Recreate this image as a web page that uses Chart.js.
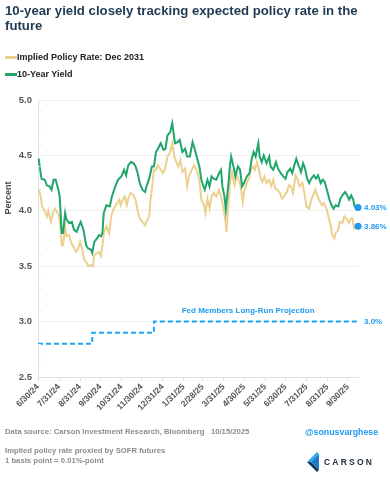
<!DOCTYPE html>
<html>
<head>
<meta charset="utf-8">
<script src="https://cdn.jsdelivr.net/npm/chart.js@4.4.1/dist/chart.umd.min.js"></script>
<style>
  body { margin: 0; background: #fff; font-family: 'Liberation Sans', Arial, sans-serif; }
  #wrap { position: relative; width: 390px; height: 480px; overflow: hidden; }
  #c { position: absolute; left: 0; top: 0; }
  .txt { position: absolute; white-space: pre; }
  #title { left: 5px; top: 3px; font-size: 13.2px; font-weight: bold; line-height: 15px; color: #1f3a52; }
  .leg { position: absolute; left: 5px; font-size: 9px; font-weight: bold; color: #222; height: 12px; line-height: 12px; }
  .leg span.sw { position: absolute; left: 0; top: 5px; width: 12px; height: 2.5px; }
  .leg span.lb { position: absolute; left: 12px; top: 0; white-space: pre; }
  #percent { left: -12px; top: 193px; width: 40px; text-align: center; font-size: 9px; font-weight: bold; color: #444; transform: rotate(-90deg); }
  #src { left: 5px; top: 427px; font-size: 7.7px; font-weight: bold; color: #8c8c8c; }
  #handle { left: 305px; top: 427px; font-size: 8.8px; font-weight: bold; color: #1e9bf0; }
  #note { left: 5px; top: 446px; font-size: 7.7px; font-weight: bold; color: #8c8c8c; line-height: 9.5px; }
  #logo { left: 306px; top: 452px; }
  #carson { left: 324px; top: 457px; font-size: 8.5px; font-weight: bold; color: #1c2b3a; letter-spacing: 2.2px; }
</style>
</head>
<body>
<div id="wrap">
  <canvas id="c" width="390" height="480"></canvas>
  <div class="txt" id="title">10-year yield closely tracking expected policy rate in the
future</div>
  <div id="legend"></div>
  <div class="txt" id="percent">Percent</div>
  <div class="txt" id="src">Data source: Carson Investment Research, Bloomberg   10/15/2025</div>
  <div class="txt" id="handle">@sonusvarghese</div>
  <div class="txt" id="note">Implied policy rate proxied by SOFR futures
1 basis point = 0.01%-point</div>
  <svg class="txt" id="logo" width="14" height="20" viewBox="0 0 14 20">
    <polygon points="11,0 1,10 5,10 13,2" fill="#2aa8f0"/>
    <polygon points="1,10 11,20 13,18 5,10" fill="#12345a"/>
    <polygon points="5,10 13,2 13,18" fill="#1e78c8"/>
  </svg>
  <div class="txt" id="carson">CARSON</div>
</div>
<script>
// x values are days since 6/30/24
const tickDays = [0, 31, 62, 92, 123, 153, 184, 215, 243, 274, 304, 335, 365, 396, 427, 457];
const tickLabels = ['6/30/24', '7/31/24', '8/31/24', '9/30/24', '10/31/24', '11/30/24', '12/31/24', '1/31/25',
  '2/28/25', '3/31/25', '4/30/25', '5/31/25', '6/30/25', '7/31/25', '8/31/25', '9/30/25'];

const yieldDays = [1, 5, 10, 13, 17, 20, 23, 26, 30, 32, 35, 37, 40, 42, 46, 50, 53, 57, 60, 63, 67, 71, 74, 78, 80,
  83, 87, 90, 93, 95, 97, 101, 106, 109, 114, 118, 123, 127, 130, 133, 137, 141, 144, 147, 150, 154, 158, 160, 164,
  168, 171, 174, 177, 181, 185, 188, 191, 195, 198, 202, 206, 209, 213, 217, 220, 224, 228, 231, 234, 238, 241, 244,
  246, 250, 253, 256, 259, 263, 267, 270, 272, 275, 277, 281, 283, 285, 288, 291, 295, 298, 301, 304, 308, 312, 315,
  318, 321, 325, 327, 330, 333, 337, 341, 343, 347, 351, 354, 358, 362, 365, 368, 372, 375, 378, 381, 385, 388, 391,
  394, 397, 400, 403, 407, 410, 413, 417, 420, 423, 427, 430, 433, 436, 439, 443, 446, 449, 453, 456, 459, 462, 465,
  467, 472];
const yieldValues = [4.47, 4.29, 4.28, 4.23, 4.22, 4.19, 4.28, 4.28, 4.19, 4.13, 3.80, 3.80, 3.98, 3.92, 3.89, 3.90,
  3.83, 3.81, 3.86, 3.90, 3.83, 3.69, 3.66, 3.65, 3.62, 3.72, 3.75, 3.78, 3.77, 3.80, 3.98, 4.05, 4.04, 4.13, 4.22,
  4.28, 4.31, 4.37, 4.32, 4.41, 4.44, 4.43, 4.40, 4.34, 4.25, 4.19, 4.17, 4.22, 4.29, 4.40, 4.40, 4.53, 4.56, 4.61,
  4.55, 4.56, 4.68, 4.71, 4.79, 4.61, 4.62, 4.64, 4.53, 4.56, 4.49, 4.49, 4.62, 4.56, 4.49, 4.40, 4.28, 4.22, 4.19,
  4.28, 4.22, 4.31, 4.29, 4.28, 4.34, 4.37, 4.22, 4.13, 4.01, 4.25, 4.40, 4.49, 4.41, 4.31, 4.40, 4.37, 4.22, 4.25,
  4.31, 4.34, 4.46, 4.53, 4.49, 4.61, 4.49, 4.44, 4.50, 4.43, 4.49, 4.40, 4.37, 4.44, 4.38, 4.34, 4.31, 4.29, 4.35,
  4.38, 4.34, 4.41, 4.47, 4.40, 4.35, 4.43, 4.38, 4.29, 4.25, 4.29, 4.32, 4.29, 4.32, 4.25, 4.28, 4.26, 4.17, 4.10,
  4.05, 4.02, 4.05, 4.04, 4.11, 4.14, 4.17, 4.14, 4.10, 4.14, 4.10, 4.04, 4.03];

const policyDays = [1, 4, 6, 9, 13, 15, 19, 22, 25, 29, 31, 33, 35, 37, 40, 42, 46, 49, 52, 56, 59, 62, 65, 68, 72,
  74, 78, 81, 83, 87, 90, 93, 95, 97, 101, 105, 108, 111, 115, 117, 120, 122, 125, 128, 131, 134, 137, 141, 144, 147,
  150, 154, 158, 160, 164, 166, 169, 171, 174, 177, 181, 184, 187, 191, 195, 198, 201, 204, 207, 210, 213, 217, 220,
  223, 227, 230, 234, 238, 241, 245, 247, 250, 253, 256, 259, 263, 267, 270, 273, 276, 278, 281, 283, 286, 288, 290,
  293, 296, 299, 302, 304, 308, 311, 314, 317, 320, 323, 326, 329, 331, 334, 337, 341, 344, 347, 350, 353, 357, 360,
  363, 367, 370, 373, 376, 380, 383, 386, 390, 393, 396, 400, 403, 406, 409, 412, 416, 419, 422, 426, 429, 432, 434,
  437, 439, 443, 445, 449, 452, 455, 459, 461, 464, 466, 472];
const policyValues = [4.20, 4.13, 4.04, 4.01, 3.95, 4.00, 3.90, 3.98, 4.02, 3.98, 3.96, 3.86, 3.69, 3.69, 3.86, 3.77,
  3.78, 3.71, 3.68, 3.63, 3.65, 3.72, 3.66, 3.56, 3.53, 3.50, 3.51, 3.50, 3.60, 3.62, 3.63, 3.59, 3.68, 3.80, 3.86,
  3.80, 3.95, 4.01, 4.05, 4.07, 4.10, 4.05, 4.10, 4.13, 4.05, 4.13, 4.16, 4.14, 4.10, 4.00, 3.93, 3.90, 3.87, 3.90,
  3.95, 4.10, 4.25, 4.37, 4.37, 4.41, 4.37, 4.34, 4.37, 4.49, 4.53, 4.61, 4.49, 4.44, 4.40, 4.46, 4.35, 4.38, 4.22,
  4.32, 4.37, 4.41, 4.37, 4.28, 4.10, 4.05, 3.98, 4.11, 4.02, 4.13, 4.16, 4.13, 4.19, 4.13, 4.04, 3.93, 3.81, 4.07,
  4.25, 4.35, 4.29, 4.23, 4.32, 4.28, 4.22, 4.08, 4.17, 4.25, 4.29, 4.37, 4.40, 4.37, 4.44, 4.37, 4.28, 4.26, 4.31,
  4.25, 4.28, 4.22, 4.28, 4.20, 4.19, 4.16, 4.11, 4.13, 4.17, 4.23, 4.22, 4.16, 4.32, 4.28, 4.22, 4.25, 4.16, 4.04,
  4.02, 4.10, 4.14, 4.19, 4.14, 4.08, 4.05, 4.07, 4.01, 3.93, 3.86, 3.78, 3.75, 3.80, 3.83, 3.90, 3.89, 3.95, 3.93,
  3.89, 3.93, 3.93, 3.84, 3.86];

// Fed SEP long-run dot (median), steps at Sep and Dec 2024 meetings
const fedDays = [0, 80, 171, 472];
const fedValues = [2.8, 2.9, 3.0, 3.0];

const GREEN = '#20a66a';
const YELLOW = '#ecd08f';
const BLUE = '#1e9bf0';
const FONT = "'Liberation Sans', Arial, sans-serif";

function pts(days, vals) { return days.map((d, i) => ({ x: d, y: vals[i] })); }
const lastDot = (n) => (ctx) => ctx.dataIndex === n - 1 ? 3.5 : 0;

// little minor tick marks on the y axis + end labels
const annot = {
  id: 'annot',
  afterDatasetsDraw(chart) {
    const { ctx, scales: { x, y }, chartArea } = chart;
    ctx.save();
    ctx.strokeStyle = '#e2e2e2';
    ctx.lineWidth = 1;
    for (let v = 2.6; v < 5.0; v += 0.1) {
      if (Math.abs(v * 2 - Math.round(v * 2)) < 0.01) continue;
      const py = Math.round(y.getPixelForValue(v)) + 0.5;
      ctx.beginPath(); ctx.moveTo(chartArea.left, py); ctx.lineTo(chartArea.left + 3, py); ctx.stroke();
    }
    ctx.fillStyle = BLUE;
    ctx.font = 'bold 8px ' + FONT;
    ctx.textBaseline = 'middle';
    ctx.textAlign = 'left';
    const xe = x.getPixelForValue(472) + 6;
    ctx.fillText(yieldValues[yieldValues.length - 1].toFixed(2) + '%', xe, y.getPixelForValue(yieldValues[yieldValues.length - 1]));
    ctx.fillText(policyValues[policyValues.length - 1].toFixed(2) + '%', xe, y.getPixelForValue(policyValues[policyValues.length - 1]));
    ctx.fillText(fedValues[fedValues.length - 1].toFixed(1) + '%', xe, y.getPixelForValue(fedValues[fedValues.length - 1]));
    ctx.textAlign = 'center';
    ctx.fillText('Fed Members Long-Run Projection', x.getPixelForValue(310), y.getPixelForValue(3.095));
    ctx.restore();
  }
};

const chart = new Chart(document.getElementById('c'), {
  type: 'line',
  data: {
    datasets: [
      {
        label: '10-Year Yield',
        data: pts(yieldDays, yieldValues),
        borderColor: GREEN, borderWidth: 2, tension: 0, clip: false,
        pointRadius: lastDot(yieldDays.length), pointBackgroundColor: BLUE, pointBorderWidth: 0,
        order: 0
      },
      {
        label: 'Implied Policy Rate: Dec 2031',
        data: pts(policyDays, policyValues),
        borderColor: YELLOW, borderWidth: 2, tension: 0, clip: false,
        pointRadius: lastDot(policyDays.length), pointBackgroundColor: BLUE, pointBorderWidth: 0,
        order: 1
      },
      {
        label: 'Fed Members Long-Run Projection',
        data: pts(fedDays, fedValues),
        borderColor: '#1ea6f5', borderWidth: 2, borderDash: [5, 3], stepped: true,
        pointRadius: 0,
        order: 2
      }
    ]
  },
  options: {
    responsive: false,
    animation: false,
    devicePixelRatio: 1,
    layout: { padding: { top: 100, right: 32, bottom: 55, left: 0 } },
    plugins: { legend: { display: false }, tooltip: { enabled: false } },
    scales: {
      x: {
        type: 'linear', min: 0, max: 472,
        afterBuildTicks: (s) => { s.ticks = tickDays.map(v => ({ value: v })); },
        afterFit: (s) => { s.height = 48; },
        ticks: {
          autoSkip: false, minRotation: 45, maxRotation: 45, padding: 1,
          color: '#555', font: { family: FONT, size: 8.5, weight: 'bold' },
          callback: (v) => tickLabels[tickDays.indexOf(v)]
        },
        grid: { drawOnChartArea: false, color: '#e0e0e0', tickLength: 4 },
        border: { color: '#e0e0e0' }
      },
      y: {
        min: 2.5, max: 5.0,
        afterFit: (s) => { s.width = 38; },
        ticks: {
          stepSize: 0.5, padding: 6,
          color: '#555', font: { family: FONT, size: 9.5, weight: 'bold' },
          callback: (v) => v.toFixed(1)
        },
        grid: { color: '#efefef', drawTicks: false },
        border: { color: '#e0e0e0' }
      }
    }
  },
  plugins: [annot]
});

// legend from the datasets (policy first, as in the source)
const legend = document.getElementById('legend');
[1, 0].forEach((idx, k) => {
  const ds = chart.data.datasets[idx];
  const el = document.createElement('div');
  el.className = 'leg';
  el.style.top = (51 + k * 17) + 'px';
  el.innerHTML = '<span class="sw" style="background:' + ds.borderColor + '"></span><span class="lb">' + ds.label + '</span>';
  legend.appendChild(el);
});
</script>
</body>
</html>
